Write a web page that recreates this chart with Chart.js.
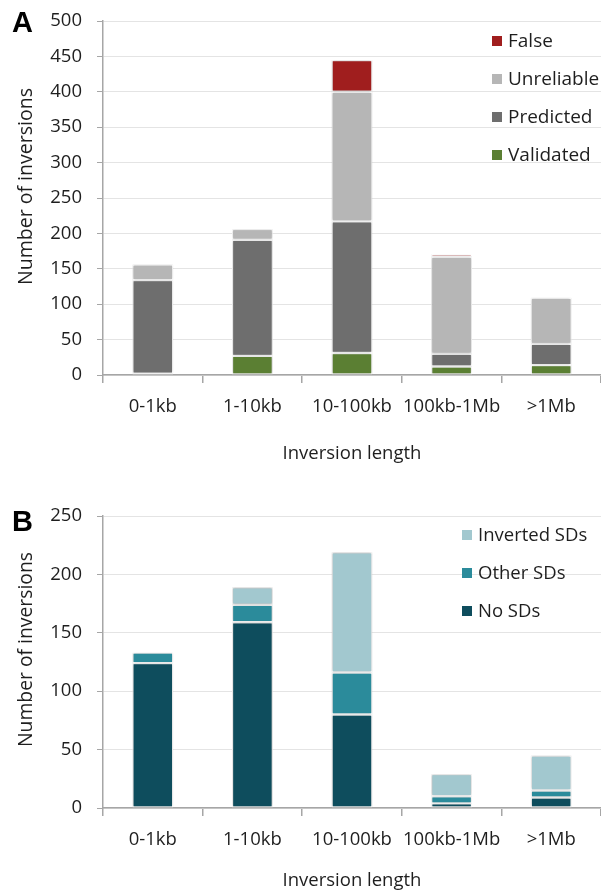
<!DOCTYPE html>
<html><head><meta charset="utf-8">
<script src="https://cdn.jsdelivr.net/npm/chart.js@4.4.0/dist/chart.umd.min.js"></script>
<style>
html,body{margin:0;padding:0;background:#fff;}
#wrap{position:relative;width:601px;height:892px;overflow:hidden;}
canvas{position:absolute;left:0;}
.panel{position:absolute;left:12px;font:bold 29px "Liberation Sans",Arial,sans-serif;line-height:1;color:#000;}
</style></head><body>
<div id="wrap">
<canvas id="cA" width="601" height="470" style="top:0px"></canvas>
<canvas id="cB" width="601" height="422" style="top:470px"></canvas>
<div class="panel" style="top:8px">A</div>
<div class="panel" style="top:507px">B</div>
</div>
<script>
const categories = ['0-1kb', '1-10kb', '10-100kb', '100kb-1Mb', '>1Mb'];

// Panel A
const validated  = [2, 27, 31, 12, 14];
const predicted  = [132, 164, 186, 18, 30];
const unreliable = [22, 15, 183, 137, 65];
const falseInv   = [0, 0, 45, 4, 0];
const ticksA = [0, 50, 100, 150, 200, 250, 300, 350, 400, 450, 500];

// Panel B
const noSDs       = [124, 159, 80, 4, 9];
const otherSDs    = [9, 15, 36, 6, 6];
const invertedSDs = [0, 15, 103, 19, 30];
const ticksB = [0, 50, 100, 150, 200, 250];

const FONT = '"Open Sans", "Noto Sans", sans-serif';
const FS = 18.5;
const TXT = '#1e1e1e';
const GRID = '#e4e4e4';
const AXIS = '#a6a6a6';
const Y_TITLE = 'Number of inversions';

const shadowPlugin = {
  id: 'barShadow',
  beforeDatasetsDraw(chart) {
    const c = chart.ctx; c.save();
    c.shadowColor = 'rgba(0,0,0,0.28)'; c.shadowBlur = 2.5;
  },
  afterDatasetsDraw(chart) { chart.ctx.restore(); }
};

const legendPlugin = {
  id: 'innerLegend',
  afterDraw(chart, args, opts) {
    const c = chart.ctx;
    const ds = chart.data.datasets.slice().reverse();
    c.save();
    c.font = opts.size + 'px ' + FONT;
    c.textBaseline = 'middle';
    c.textAlign = 'left';
    ds.forEach((d, i) => {
      const y = opts.y + i * opts.dy;
      c.fillStyle = d.backgroundColor;
      c.fillRect(opts.x, y - 5, 10, 10);
      c.fillStyle = TXT;
      c.fillText(d.label, opts.x + 16, y + 1);
    });
    c.restore();
  }
};

const yTitlePlugin = {
  id: 'yTitle',
  afterDraw(chart, args, opts) {
    const c = chart.ctx;
    c.save();
    c.font = '20px ' + FONT;
    const w = c.measureText(Y_TITLE).width;
    const size = 20 * opts.width / w;
    c.font = size.toFixed(2) + 'px ' + FONT;
    c.translate(opts.x, opts.y);
    c.rotate(-Math.PI / 2);
    c.textAlign = 'center';
    c.textBaseline = 'middle';
    c.fillStyle = TXT;
    c.fillText(Y_TITLE, 0, 0);
    c.restore();
  }
};

function makeChart(id, datasets, ticks, maxV, cfg) {
  const ds = datasets.map(d => ({
    label: d.label, data: d.data, backgroundColor: d.color,
    borderColor: '#ffffff', borderWidth: 1.2, borderSkipped: false,
    categoryPercentage: 1.0, barPercentage: 0.41
  }));
  return new Chart(document.getElementById(id), {
    type: 'bar',
    data: { labels: categories, datasets: ds },
    plugins: [shadowPlugin, legendPlugin, yTitlePlugin],
    options: {
      responsive: false, animation: false,
      layout: { padding: { top: cfg.top, right: 0, left: 0, bottom: 0 } },
      plugins: {
        legend: { display: false }, tooltip: { enabled: false },
        innerLegend: cfg.legend,
        yTitle: cfg.yTitle
      },
      scales: {
        x: {
          stacked: true,
          grid: { display: true, offset: true, drawOnChartArea: false, drawTicks: true, tickLength: 8, tickColor: AXIS, lineWidth: 1.5 },
          border: { display: true, color: AXIS, width: 1.5 },
          ticks: { color: TXT, font: { family: FONT, size: FS }, padding: cfg.xPad, maxRotation: 0, autoSkip: false },
          title: { display: true, text: 'Inversion length', color: TXT, font: { family: FONT, size: FS }, padding: { top: 0, bottom: cfg.titleBottom } },
          afterFit: s => { s.height = cfg.xHeight; }
        },
        y: {
          stacked: true, min: 0, max: maxV,
          afterBuildTicks: s => { s.ticks = ticks.map(v => ({ value: v })); },
          grid: { color: GRID, lineWidth: 1, tickLength: 6, tickColor: AXIS },
          border: { display: true, color: AXIS, width: 1.5 },
          ticks: { color: TXT, font: { family: FONT, size: FS }, padding: 15 },
          title: { display: false },
          afterFit: s => { s.width = 103; s.paddingTop = 0; s.paddingBottom = 0; }
        }
      }
    }
  });
}

makeChart('cA', [
  { label: 'Validated', data: validated, color: '#5b7f33' },
  { label: 'Predicted', data: predicted, color: '#6e6e6e' },
  { label: 'Unreliable', data: unreliable, color: '#b6b6b6' },
  { label: 'False', data: falseInv, color: '#a01e1e' }
], ticksA, 500, { top: 21, xHeight: 95, xPad: 13, titleBottom: 5,
  legend: { x: 492, y: 41, dy: 38, size: 19 }, yTitle: { x: 26, y: 186.5, width: 197 } });

makeChart('cB', [
  { label: 'No SDs', data: noSDs, color: '#0e4d5d' },
  { label: 'Other SDs', data: otherSDs, color: '#2b8b9b' },
  { label: 'Inverted SDs', data: invertedSDs, color: '#a2c8cf' }
], ticksB, 250, { top: 46, xHeight: 84, xPad: 13, titleBottom: 0,
  legend: { x: 462, y: 65, dy: 38, size: 18.5 }, yTitle: { x: 26, y: 179.5, width: 195 } });
</script>
</body></html>
